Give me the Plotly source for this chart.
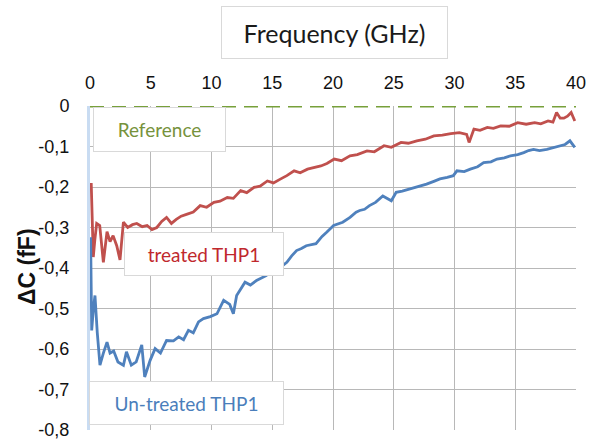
import plotly.graph_objects as go

# ---- data ----
x_ticks = [0, 5, 10, 15, 20, 25, 30, 35, 40]
y_ticks = [0, -0.1, -0.2, -0.3, -0.4, -0.5, -0.6, -0.7, -0.8]
y_tick_labels = ["0", "-0,1", "-0,2", "-0,3", "-0,4", "-0,5", "-0,6", "-0,7", "-0,8"]

ref_f = [0, 40]
ref_v = [0, 0]

treated_f = [0.1, 0.27, 0.4, 0.55, 0.8, 1.1, 1.4, 1.65, 1.9, 2.2, 2.47, 2.75, 3.1, 3.5, 3.85,
             4.3, 4.7, 5.1, 5.5, 5.9, 6.3, 6.7, 7.1, 7.5, 8.0, 8.5, 9.07, 9.6, 10.2, 10.7,
             11.3, 11.8, 12.4, 12.9, 13.5, 14.0, 14.6, 15.1, 15.7, 16.2, 16.8, 17.3, 17.9, 18.4,
             19.0, 19.5, 20.1, 20.7, 21.4, 22.0, 22.8, 23.4, 24.2, 24.8, 25.6, 26.2, 26.9, 27.6,
             28.3, 29.0, 29.7, 30.4, 31.0, 31.2, 31.6, 32.1, 32.7, 33.2, 33.8, 34.5, 35.2, 35.9,
             36.6, 37.1, 37.7, 38.1, 38.4, 38.7, 39.0, 39.3, 39.6, 39.9]
treated_v = [-0.19, -0.373, -0.33, -0.29, -0.295, -0.386, -0.31, -0.335, -0.32, -0.345, -0.38,
             -0.287, -0.30, -0.293, -0.29, -0.298, -0.295, -0.305, -0.30, -0.285, -0.275, -0.29,
             -0.28, -0.272, -0.267, -0.262, -0.246, -0.25, -0.238, -0.235, -0.226, -0.228, -0.209,
             -0.214, -0.201, -0.198, -0.185, -0.19, -0.18, -0.172, -0.16, -0.165, -0.156, -0.153,
             -0.148, -0.142, -0.131, -0.135, -0.123, -0.12, -0.111, -0.113, -0.098, -0.102, -0.09,
             -0.092, -0.086, -0.082, -0.074, -0.072, -0.068, -0.066, -0.07, -0.09, -0.057, -0.06,
             -0.053, -0.055, -0.049, -0.05, -0.041, -0.045, -0.041, -0.044, -0.037, -0.04, -0.016,
             -0.03, -0.03, -0.025, -0.016, -0.037]

untreated_f = [0.05, 0.14, 0.28, 0.41, 0.6, 0.82, 1.1, 1.4, 1.65, 1.95, 2.3, 2.75, 3.0, 3.4, 3.8,
               4.26, 4.5, 4.95, 5.36, 5.8, 6.3, 6.87, 7.3, 7.7, 8.1, 8.5, 8.93, 9.34, 9.9, 10.45,
               11.0, 11.5, 11.8, 12.07, 12.76, 13.2, 13.7, 14.5, 14.85, 15.3, 15.7, 16.2, 16.6,
               17.0, 17.4, 17.8, 18.6, 19.1, 19.5, 20.05, 20.8, 21.4, 21.9, 22.2, 22.6, 23.0, 23.5,
               24.1, 24.8, 25.2, 25.7, 26.3, 27.0, 27.7, 28.3, 28.8, 29.4, 29.9, 30.2, 30.8, 31.3,
               31.9, 32.4, 33.0, 33.5, 34.1, 34.6, 35.2, 35.7, 36.1, 36.5, 37.0, 37.6, 38.1, 38.7,
               39.1, 39.5, 39.9]
untreated_v = [-0.324, -0.554, -0.50, -0.468, -0.56, -0.64, -0.61, -0.583, -0.61, -0.605, -0.632,
               -0.64, -0.607, -0.64, -0.632, -0.59, -0.669, -0.628, -0.599, -0.61, -0.579, -0.58,
               -0.57, -0.577, -0.554, -0.56, -0.533, -0.525, -0.52, -0.513, -0.48, -0.49, -0.513,
               -0.468, -0.435, -0.442, -0.431, -0.419, -0.41, -0.405, -0.398, -0.386, -0.37, -0.357,
               -0.352, -0.345, -0.34, -0.322, -0.311, -0.295, -0.287, -0.275, -0.262, -0.258, -0.255,
               -0.246, -0.238, -0.222, -0.234, -0.213, -0.21, -0.205, -0.198, -0.193, -0.186, -0.18,
               -0.176, -0.172, -0.16, -0.162, -0.156, -0.15, -0.14, -0.138, -0.131, -0.128, -0.123,
               -0.12, -0.115, -0.11, -0.107, -0.11, -0.107, -0.103, -0.098, -0.095, -0.086, -0.102]

GREEN = "#77a03a"
RED = "#c0504d"
BLUE = "#4f81bd"

fig = go.Figure()
fig.add_trace(go.Scatter(x=treated_f, y=treated_v, mode="lines",
                         line=dict(color=RED, width=2.8), showlegend=False))
fig.add_trace(go.Scatter(x=untreated_f, y=untreated_v, mode="lines",
                         line=dict(color=BLUE, width=2.8), showlegend=False))
fig.add_trace(go.Scatter(x=ref_f, y=ref_v, mode="lines", cliponaxis=False,
                         line=dict(color=GREEN, width=3, dash="14px,8px"), showlegend=False))

L, R, T, B = 90, 24, 106, 13
W, H = 600, 443
pw, ph = W - L - R, H - T - B


def px2paper(xp, yp):
    return (xp - L) / pw, (H - B - yp) / ph


def box(text, x0, y0, x1, y1, color, size, family="Lato"):
    cx, cy = px2paper((x0 + x1) / 2, (y0 + y1) / 2)
    return dict(text=text, xref="paper", yref="paper", x=cx, y=cy,
                xanchor="center", yanchor="middle", showarrow=False,
                font=dict(family=family, size=size, color=color),
                bgcolor="white", bordercolor="#d9d9d9", borderwidth=1, borderpad=0,
                width=x1 - x0 - 2, height=y1 - y0 - 2)


annotations = [
    box("Frequency (GHz)", 221, 6, 448, 59, "#1a1a1a", 25),
    box("Reference", 93, 107, 226, 152, "#76923c", 19),
    box("treated THP1", 124, 232, 284, 276, "#c0282d", 19),
    box("Un-treated THP1", 89, 381, 284, 425, "#4a7ebb", 19),
]
lx, ly = px2paper(27, 267)
annotations.append(dict(text="<b>ΔC (fF)</b>", xref="paper", yref="paper", x=lx, y=ly,
                        xanchor="center", yanchor="middle", showarrow=False, textangle=-90,
                        font=dict(family="Liberation Sans, Arial", size=23, color="#111111")))

fig.update_layout(
    width=W, height=H,
    margin=dict(l=L, r=R, t=T, b=B, autoexpand=False),
    paper_bgcolor="white", plot_bgcolor="white",
    annotations=annotations,
    xaxis=dict(range=[0, 40], side="top", tickvals=x_ticks, ticktext=[str(v) for v in x_ticks],
               showgrid=True, gridcolor="#b8b8b8", gridwidth=1, zeroline=False,
               showline=False, ticks="", ticklabelstandoff=12, automargin=False,
               tickfont=dict(family="Liberation Sans, Arial", size=18, color="#111111")),
    yaxis=dict(range=[-0.8, 0], tickvals=y_ticks, ticktext=y_tick_labels,
               showgrid=True, gridcolor="#b8b8b8", gridwidth=1, zeroline=False,
               showline=True, linecolor="#c9dcf2", linewidth=3, ticks="",
               ticklabelstandoff=14, automargin=False,
               tickfont=dict(family="Liberation Sans, Arial", size=18, color="#111111")),
)

fig.write_html("out.html", config={"displayModeBar": False},
               post_script="document.body.style.margin='0';document.body.style.overflow='hidden';")
